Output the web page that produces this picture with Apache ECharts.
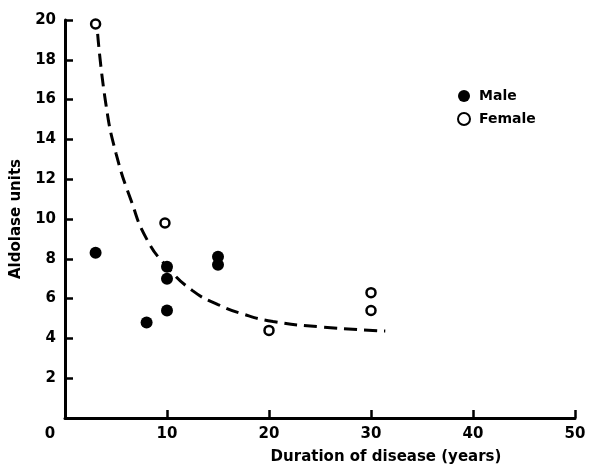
<!DOCTYPE html>
<html>
<head>
<meta charset="utf-8">
<script src="https://cdn.jsdelivr.net/npm/echarts@6/dist/echarts.min.js"></script>
<style>html,body{margin:0;padding:0;background:#fff}#c{width:591px;height:467px}</style>
</head>
<body>
<div id="c"></div>
<script>
// Data
var maleData = [[3, 8.3], [8, 4.8], [10, 7.6], [10, 7.0], [10, 5.4], [15, 8.1], [15, 7.7]];
var femaleData = [[3, 19.8], [9.8, 9.8], [20, 4.4], [30, 6.3], [30, 5.4]];
var curveData = [[3.2, 19.3], [4.0, 15.8], [5.0, 13.3], [6.5, 10.9], [8.0, 9.0], [10, 7.6], [12.5, 6.4], [15, 5.7], [17.6, 5.2], [20.4, 4.85], [25, 4.58], [31.4, 4.37]];
var xTicks = [0, 10, 20, 30, 40, 50];
var yTicks = [0, 2, 4, 6, 8, 10, 12, 14, 16, 18, 20];
var xTitle = 'Duration of disease (years)';
var yTitle = 'Aldolase units';
var seriesNames = ['Male', 'Female'];

var font = 'DejaVu Sans';
var chart = echarts.init(document.getElementById('c'));
chart.setOption({
  animation: false,
  backgroundColor: '#fff',
  grid: { left: 65, right: 16, top: 20, bottom: 49, containLabel: false, outerBoundsMode: 'none' },
  legend: {
    orient: 'vertical', left: 452, top: 84, itemWidth: 12, itemHeight: 12, itemGap: 9,
    textStyle: { fontFamily: font, fontWeight: 'bold', fontSize: 14, color: '#000', padding: [0, 0, 0, 4] },
    data: [
      { name: seriesNames[0], icon: 'circle' },
      { name: seriesNames[1], icon: 'circle' }
    ]
  },
  xAxis: {
    type: 'value', min: xTicks[0], max: xTicks[xTicks.length - 1], interval: 10,
    name: xTitle, nameLocation: 'middle', nameGap: 32,
    nameTextStyle: { fontFamily: font, fontWeight: 'bold', fontSize: 15, color: '#000', padding: [0, 0, 0, 132] },
    axisLine: { lineStyle: { color: '#000', width: 3 } },
    axisTick: { inside: true, length: 8, lineStyle: { color: '#000', width: 2.5 } },
    splitLine: { show: false },
    axisLabel: {
      margin: 9, color: '#000', fontFamily: font, fontWeight: 'bold', fontSize: 15,
      formatter: function (v) { return v === 0 ? '{z|0}' : String(v); },
      rich: { z: { fontFamily: font, fontWeight: 'bold', fontSize: 15, color: '#000', padding: [0, 30, 0, 0] } }
    }
  },
  yAxis: {
    type: 'value', min: yTicks[0], max: yTicks[yTicks.length - 1], interval: 2,
    name: yTitle, nameLocation: 'middle', nameGap: 41,
    nameTextStyle: { fontFamily: font, fontWeight: 'bold', fontSize: 15, color: '#000' },
    axisLine: { show: true, lineStyle: { color: '#000', width: 3 } },
    axisTick: { show: true, inside: true, length: 8, lineStyle: { color: '#000', width: 2.5 } },
    splitLine: { show: false },
    axisLabel: { showMinLabel: false, margin: 9, color: '#000', fontFamily: font, fontWeight: 'bold', fontSize: 15 }
  },
  series: [
    {
      type: 'line', data: curveData, smooth: 0.5, showSymbol: false, silent: true,
      lineStyle: { color: '#000', width: 3, type: [13, 7] }, z: 1
    },
    {
      name: seriesNames[0], type: 'scatter', data: maleData, symbol: 'circle', symbolSize: 12,
      itemStyle: { color: '#000', opacity: 1 }, z: 3
    },
    {
      name: seriesNames[1], type: 'scatter', data: femaleData, symbol: 'circle', symbolSize: 9,
      itemStyle: { color: '#fff', borderColor: '#000', borderWidth: 2.5, opacity: 1 }, z: 3
    }
  ]
});
</script>
</body>
</html>
